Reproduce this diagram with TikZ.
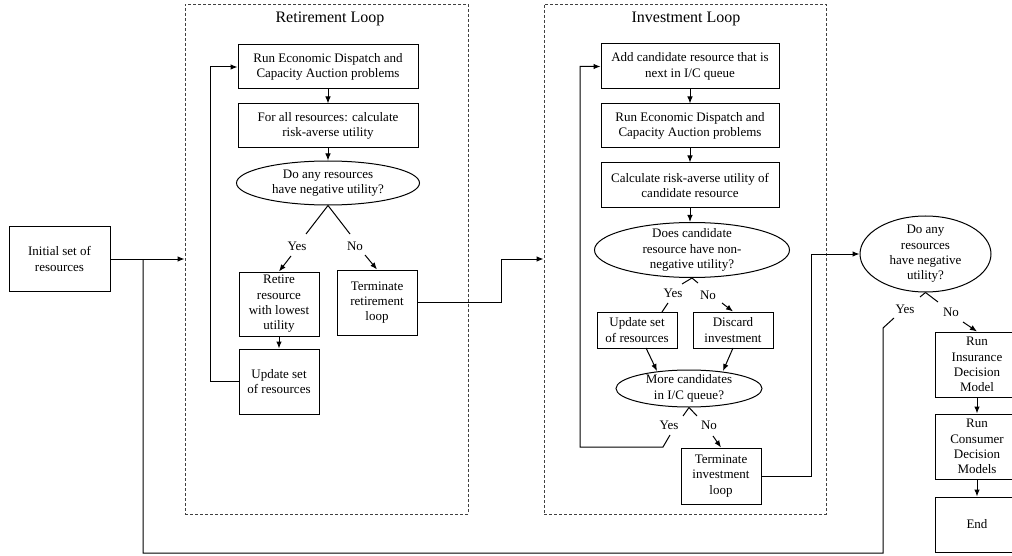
\documentclass[tikz,border=0pt]{standalone}
\usepackage{fontspec}
\setmainfont{Liberation Serif}
\usetikzlibrary{arrows.meta,shapes.geometric}
\begin{document}
\begin{tikzpicture}[x=1pt,y=-1pt,
  every node/.style={font=\fontsize{13}{15.3}\selectfont},
  box/.style={draw, line width=1pt, rectangle, inner sep=0pt, align=center},
  ell/.style={draw, line width=1pt, ellipse, inner sep=0pt},
  txt/.style={inner sep=0pt, align=center},
  loopbox/.style={draw=black!75, line width=0.9pt, dash pattern=on 3pt off 2pt, rectangle, inner sep=0pt},
  ln/.style={line width=1pt},
  arr/.style={line width=1pt, -{Latex[length=7pt,width=5.5pt]}},
  ttl/.style={font=\fontsize{16}{19}\selectfont, inner sep=0pt}
]
\useasboundingbox (0,0) rectangle (1012,556);
\fill[white] (0,0) rectangle (1012,556);
\clip (0,0) rectangle (1012,556);

% loop frames
\node[loopbox, minimum width=283pt, minimum height=510pt] (RL) at (326.5,259) {};
\node[loopbox, minimum width=282pt, minimum height=510pt] (IL) at (685,259) {};
\node[ttl] (RLt) at (330,19) {Retirement Loop};
\node[ttl] (ILt) at (686,19) {Investment Loop};

% initial
\node[box, minimum width=101pt, minimum height=64pt] (init) at (59.5,259) {Initial set of\\resources};

% retirement loop
\node[box, minimum width=180pt, minimum height=44pt] (R1) at (328,67) {Run Economic Dispatch and\\Capacity Auction problems};
\node[box, minimum width=180pt, minimum height=44pt] (R2) at (328,126) {For all resources: calculate\\risk-averse utility};
\node[ell, minimum width=183pt, minimum height=44pt] (R3) at (328,183) {};
\node[txt] (R3t) at (R3.center) {Do any resources\\have negative utility?};
\node[box, minimum width=80pt, minimum height=64pt] (R4) at (279,304) {Retire\\resource\\with lowest\\utility};
\node[box, minimum width=80pt, minimum height=65pt] (R6) at (279,381.5) {Update set\\of resources};
\node[box, minimum width=80pt, minimum height=65pt] (R5) at (377,302.5) {Terminate\\retirement\\loop};
\node[txt] (Ryes) at (297,246) {Yes};
\node[txt] (Rno) at (355,246) {No};
\coordinate (ry1) at (306,234);
\coordinate (ry2) at (291,256);
\coordinate (rn1) at (350,234);
\coordinate (rn2) at (365,255);

% investment loop
\node[box, minimum width=178pt, minimum height=45pt] (I1) at (690,66.5) {Add candidate resource that is\\next in I/C queue};
\node[box, minimum width=178pt, minimum height=44pt] (I2) at (690,126) {Run Economic Dispatch and\\Capacity Auction problems};
\node[box, minimum width=178pt, minimum height=45pt] (I3) at (690,185.5) {Calculate risk-averse utility of\\candidate resource};
\node[ell, minimum width=195pt, minimum height=55pt] (I4) at (692,250) {};
\node[txt] (I4t) at (I4.center) {Does candidate\\resource have non-\\negative utility?};
\node[box, minimum width=80pt, minimum height=36pt] (I5) at (637,330) {Update set\\of resources};
\node[box, minimum width=80pt, minimum height=36pt] (I6) at (733,330) {Discard\\investment};
\node[ell, minimum width=146pt, minimum height=37pt] (I7) at (689,388.5) {};
\node[txt] (I7t) at (I7.center) {More candidates\\in I/C queue?};
\node[box, minimum width=80pt, minimum height=56pt] (I8) at (721,476) {Terminate\\investment\\loop};
\node[txt] (Iyes1) at (673,293) {Yes};
\node[txt] (Ino1) at (708,295) {No};
\node[txt] (Iyes2) at (669,425) {Yes};
\node[txt] (Ino2) at (709,425) {No};
\coordinate (iy1a) at (682,284);
\coordinate (iy1b) at (668,303);
\coordinate (iy1c) at (662,312);
\coordinate (in1a) at (698,283);
\coordinate (in1b) at (722,303);
\coordinate (iu) at (646,348);
\coordinate (iue) at (657,371);
\coordinate (idd) at (733,348);
\coordinate (ide) at (723,371);
\coordinate (iy2a) at (683,416);
\coordinate (iy2b) at (670,435);
\coordinate (iy2c) at (663,447);
\coordinate (in2a) at (697,416);
\coordinate (in2b) at (713,436);

% final stage
\node[ell, minimum width=131pt, minimum height=76pt] (F1) at (925.5,254) {};
\node[txt] (F1t) at (F1.center) {Do any\\resources\\have negative\\utility?};
\node[box, minimum width=84pt, minimum height=65pt] (F2) at (977,364.5) {Run\\Insurance\\Decision\\Model};
\node[box, minimum width=84pt, minimum height=65pt] (F3) at (977,446.5) {Run\\Consumer\\Decision\\Models};
\node[box, minimum width=84pt, minimum height=55pt] (F4) at (977,524.5) {End};
\node[txt] (Fyes) at (905,309) {Yes};
\node[txt] (Fno) at (951,312) {No};
\coordinate (fy0) at (920,297);
\coordinate (fy1) at (894,318);
\coordinate (fy2) at (883,328);
\coordinate (fn0) at (938,302);
\coordinate (fn1) at (963,322);
\coordinate (b1) at (883,553);
\coordinate (j1) at (143,259);

% connectors: start
\draw[arr] (init.east) -- (RL.west);
\draw[ln] (fy1) -- (fy2) -- (b1) -| (j1);

% retirement
\draw[arr] (R1.south) -- (R2.north);
\draw[arr] (R2.south) -- (R3.north);
\draw[ln] (R3.south) -- (ry1);
\draw[arr] (ry2) -- (R4.north);
\draw[ln] (R3.south) -- (rn1);
\draw[arr] (rn2) -- (R5.north);
\draw[arr] (R4.south) -- (R6.north);
\draw[arr] (R6.west) -- ++(-28,0) |- (R1.west);
\draw[arr] (R5.east) -- ++(84,0) |- (IL.west);

% investment
\draw[arr] (I1.south) -- (I2.north);
\draw[arr] (I2.south) -- (I3.north);
\draw[arr] (I3.south) -- (I3.south |- I4.north);
\draw[ln] (I4.south) -- (iy1a);
\draw[ln] (iy1b) -- (iy1c);
\draw[ln] (I4.south) -- (in1a);
\draw[arr] (in1b) -- (I6.north);
\draw[arr] (iu) -- (iue);
\draw[arr] (idd) -- (ide);
\draw[ln] (I7.south) -- (iy2a);
\draw[ln] (I7.south) -- (in2a);
\draw[arr] (iy2b) -- (iy2c) -- ++(-83,0) |- (I1.west);
\draw[arr] (in2b) -- (I8.north);
\draw[arr] (I8.east) -- ++(50,0) |- (F1.west);

% final
\draw[ln] (F1.south) -- (fy0);
\draw[ln] (F1.south) -- (fn0);
\draw[arr] (fn1) -- (F2.north);
\draw[arr] (F2.south) -- (F3.north);
\draw[arr] (F3.south) -- (F4.north);
\end{tikzpicture}
\end{document}
